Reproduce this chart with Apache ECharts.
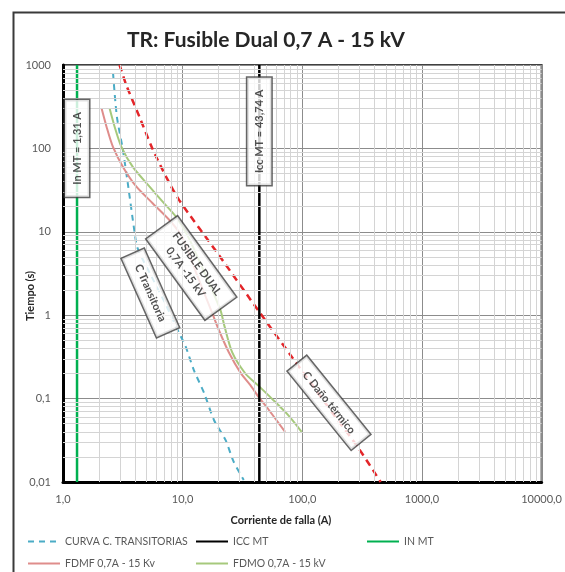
<!DOCTYPE html>
<html>
<head>
<meta charset="utf-8">
<script src="https://cdn.jsdelivr.net/npm/echarts@6/dist/echarts.min.js"></script>
<style>
html,body{margin:0;padding:0;background:#fff;}
#chart{width:565px;height:572px;}
</style>
</head>
<body>
<div id="chart"></div>
<script>
// ---- Data (current in A, time in s) ----
var transitoriaCurve = [[2.62,800],[2.82,240],[3.15,100],[3.48,38],[3.96,10],[4.19,6.4],[5.5,2.9],[7.3,1.3],[9.35,0.61],[10.6,0.42],[12.4,0.22],[15.1,0.117],[18.3,0.055],[22.8,0.032],[26.7,0.0175],[32.4,0.0106]];
var danoTermicoCurve = [[2.97,1000],[3.38,575],[4.35,240],[5.58,100],[7.25,46],[9.35,24],[20,5.3],[44,1.08],[87,0.28],[200,0.054],[292,0.026],[452,0.01]];
var fdmfCurve = [[2.10,302],[2.31,182],[2.61,105],[3.17,60],[4.09,35],[5.61,22],[7.98,13.2],[10,8.4],[13,3.2],[17.7,1.05],[20.1,0.66],[24.3,0.36],[30.4,0.205],[36.8,0.145],[43.1,0.105],[52.2,0.074],[71.8,0.040]];
var fdmoCurve = [[2.45,302],[2.70,182],[3.07,105],[3.83,60],[5.27,35],[6.80,23],[8.78,15.2],[11,9.0],[15,3.4],[20.7,1.15],[22.3,0.75],[25.9,0.36],[33.4,0.20],[43.1,0.142],[55.6,0.100],[76.5,0.063],[98.7,0.040]];
var iccMT = 43.74;
var inMT = 1.31;
var timeRange = [0.01, 1000];
var currentRange = [1, 10000];

// annotations: [x, y, text, rotation]
var annotInMT = [[1.31, 100, 'In MT = 1,31 A', 90]];
var annotIcc = [[43.74, 160, 'Icc MT = 43,74 A', 90]];
var annotTrans = [[5.37, 1.85, 'C Transitoria', -66]];
var annotFus = [[11.8, 3.68, 'FUSIBLE DUAL\n0,7A -15 kV', -54]];
var annotDano = [[167, 0.089, 'C Daño térmico', -51]];

var seriesNames = ['CURVA C. TRANSITORIAS','ICC MT','IN MT','FDMF 0,7A - 15 Kv','FDMO 0,7A - 15 kV'];
var xTickFmt = function(v){ return Number(v).toFixed(1).replace('.', ','); };
var yTickFmt = function(v){ return String(Number(Number(v).toPrecision(6))).replace('.', ','); };

// minor grid values (2..9 per decade) derived from axis range
function minorVals(range){
  var out = [];
  var k0 = Math.round(Math.log10(range[0])), k1 = Math.round(Math.log10(range[1]));
  for (var k = k0; k < k1; k++) for (var m = 2; m <= 9; m++) out.push(Number((m * Math.pow(10, k)).toPrecision(6)));
  return out;
}
var minorLines = [];
minorVals(currentRange).forEach(function(v){ minorLines.push({xAxis: v}); });
minorVals(timeRange).forEach(function(v){ minorLines.push({yAxis: v}); });

var FONT = 'Lato';
function annotSeries(name, data){
  return {
    name: name, type: 'scatter', symbolSize: 0, z: 10, silent: true,
    data: data.map(function(d){ return {value: [d[0], d[1]], label: {rotate: d[3], formatter: d[2]}}; }),
    label: {
      show: true, position: 'inside', align: 'center', verticalAlign: 'middle',
      color: '#262626', fontFamily: FONT, fontWeight: 'bold', fontSize: 11, lineHeight: 14,
      backgroundColor: '#fff', borderColor: '#404040', borderWidth: 1.5, padding: [5, 12]
    }
  };
}

var chart = echarts.init(document.getElementById('chart'), null, {renderer: 'canvas'});
var legendText = {color: '#595959', fontFamily: FONT, fontSize: 10.5};
function legendCol(left, names){
  return {orient: 'vertical', left: left, top: 536, padding: 0, itemWidth: 32, itemHeight: 10, itemGap: 11,
    data: names, textStyle: legendText, itemStyle: {opacity: 0}};
}
var option = {
  animation: false,
  backgroundColor: '#fff',
  textStyle: {fontFamily: FONT},
  title: {text: 'TR: Fusible Dual 0,7 A - 15 kV', left: 122, top: 25,
    textStyle: {fontFamily: FONT, fontWeight: 'bold', fontSize: 21, color: '#262626'}},
  grid: {left: 63, right: 20, top: 65, bottom: 90, show: true, borderColor: '#404040', borderWidth: 2, backgroundColor: 'transparent'},
  legend: [
    legendCol(27, [seriesNames[0], seriesNames[3]]),
    legendCol(195, [seriesNames[1], seriesNames[4]]),
    legendCol(366, [seriesNames[2]])
  ],
  xAxis: {type: 'log', logBase: 10, min: currentRange[0], max: currentRange[1], interval: 1,
    axisLine: {show: true, onZero: false, lineStyle: {color: '#000', width: 3}},
    axisTick: {show: false},
    axisLabel: {formatter: xTickFmt, color: '#595959', fontSize: 11, margin: 12, fontFamily: FONT},
    splitLine: {show: true, lineStyle: {color: '#8c8c8c', width: 1}}},
  yAxis: {type: 'log', logBase: 10, min: timeRange[0], max: timeRange[1], interval: 1,
    axisLine: {show: true, onZero: false, lineStyle: {color: '#000', width: 3}},
    axisTick: {show: false},
    axisLabel: {formatter: yTickFmt, color: '#595959', fontSize: 11, margin: 12, fontFamily: FONT},
    splitLine: {show: true, lineStyle: {color: '#8c8c8c', width: 1}}},
  graphic: [
    {type: 'rect', left: 11, top: 10, z: -1, shape: {width: 600, height: 600}, style: {fill: 'none', stroke: '#3a3a3a', lineWidth: 2}},
    {type: 'text', x: 30, y: 296, rotation: Math.PI / 2, style: {text: 'Tiempo (s)', font: 'bold 11px Lato', fill: '#262626', align: 'center', verticalAlign: 'middle'}},
    {type: 'text', x: 281, y: 520, style: {text: 'Corriente de falla (A)', font: 'bold 11px Lato', fill: '#262626', align: 'center', verticalAlign: 'middle'}}
  ],
  series: [
    {name: 'grid-minor', type: 'line', data: [], silent: true, z: 0,
      markLine: {silent: true, symbol: 'none', animation: false, label: {show: false},
        lineStyle: {color: '#d4d4d4', width: 1, type: 'solid'}, data: minorLines}},
    {name: seriesNames[0], type: 'line', data: transitoriaCurve, symbol: 'none', smooth: 0.25, z: 3,
      lineStyle: {color: '#4bacc6', width: 2, type: [6, 5]}, itemStyle: {color: '#4bacc6'}},
    {name: 'C Daño térmico', type: 'line', data: danoTermicoCurve, symbol: 'none', smooth: 0.25, z: 3,
      lineStyle: {color: '#e3262a', width: 2.5, type: [7, 5]}, itemStyle: {color: '#e3262a'}},
    {name: seriesNames[3], type: 'line', data: fdmfCurve, symbol: 'none', smooth: 0.25, z: 3,
      lineStyle: {color: '#df8d8b', width: 2}, itemStyle: {color: '#df8d8b'}},
    {name: seriesNames[4], type: 'line', data: fdmoCurve, symbol: 'none', smooth: 0.25, z: 3,
      lineStyle: {color: '#a6c97c', width: 2}, itemStyle: {color: '#a6c97c'}},
    {name: seriesNames[1], type: 'line', data: [[iccMT, timeRange[0]], [iccMT, timeRange[1]]], symbol: 'none', z: 4,
      lineStyle: {color: '#000', width: 2.5}, itemStyle: {color: '#000'}},
    {name: seriesNames[2], type: 'line', data: [[inMT, timeRange[0]], [inMT, timeRange[1]]], symbol: 'none', z: 4,
      lineStyle: {color: '#00b050', width: 2.5}, itemStyle: {color: '#00b050'}},
    annotSeries('a1', annotInMT),
    annotSeries('a2', annotIcc),
    annotSeries('a3', annotTrans),
    annotSeries('a4', annotFus),
    annotSeries('a5', annotDano)
  ]
};
chart.setOption(option);
</script>
</body>
</html>
